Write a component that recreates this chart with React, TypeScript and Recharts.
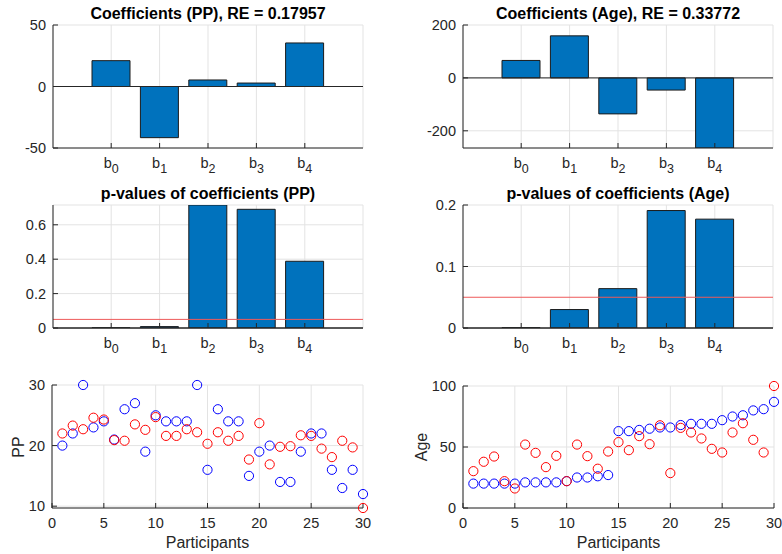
import React from "react";
import {
  BarChart, Bar, XAxis, YAxis, CartesianGrid, ReferenceLine,
  ScatterChart, Scatter,
} from "recharts";

// regression coefficients and their p-values
const COEF_NAMES = ["b0", "b1", "b2", "b3", "b4"];
const PP_COEF = [21, -41.6, 5.3, 2.8, 35.4];
const AGE_COEF = [66, 159, -136, -46, -265];
const PP_PVAL = [0.001, 0.008, 0.715, 0.69, 0.388];
const AGE_PVAL = [0.0005, 0.03, 0.064, 0.191, 0.177];
const P_LIMIT = 0.05;

// per participant values
const PARTICIPANTS = [1, 2, 3, 4, 5, 6, 7, 8, 9, 10, 11, 12, 13, 14, 15, 16, 17, 18, 19, 20, 21, 22, 23, 24, 25, 26, 27, 28, 29, 30];
const PP_MEASURED = [20, 22, 30, 23, 24, 21, 26, 27, 19, 25, 24, 24, 24, 30, 16, 26, 24, 24, 15, 19, 20, 14, 14, 19, 22, 22, 16, 13, 16, 12];
const PP_ESTIMATED = [22, 23.3, 22.7, 24.6, 24.3, 20.9, 20.8, 23.5, 22.6, 24.7, 21.6, 21.6, 22.7, 22.2, 20.3, 22.2, 20.8, 21.6, 17.7, 23.7, 16.9, 19.8, 19.9, 21.7, 21.6, 19.5, 18.1, 20.8, 19.7, 9.7];
const AGE_MEASURED = [20, 20, 20, 20, 20, 21, 21, 21, 21, 22, 25, 25, 26, 27, 63, 63, 64, 65, 66, 66, 68, 69, 69, 69, 72, 75, 76, 80, 81, 87];
const AGE_ESTIMATED = [30.2, 37.9, 42.2, 22, 16, 52, 45.2, 33.5, 42.8, 22, 52, 42.5, 32.2, 46.3, 54, 47.4, 58.9, 52.3, 67.8, 28.6, 65.7, 61.9, 57, 48.5, 45.5, 61.9, 69.5, 55.9, 45.5, 100];

const X_TICKS = [0, 5, 10, 15, 20, 25, 30];

const FONT = '"Liberation Sans", Arial, Helvetica, sans-serif';
const AXIS = "#262626";
const GRID = "#e3e3e3";
const BAR_BLUE = "#0072BD";
const TICK_STYLE = { fill: AXIS, fontSize: 14.5, fontFamily: FONT };

function SubTick(props: any) {
  const { x, y, payload } = props;
  const s = String(payload.value);
  return (
    <text x={x} y={y + 16} textAnchor="middle" fill={AXIS} fontFamily={FONT} fontSize={14.5}>
      <tspan>{s[0]}</tspan>
      <tspan fontSize={12.5} dy={5}>{s.slice(1)}</tspan>
    </text>
  );
}

const ring = (color: string) => (props: any) =>
  <circle cx={props.cx} cy={props.cy} r={4.6} fill="none" stroke={color} strokeWidth={1} />;

function Title({ text, left, width }: { text: string; left: number; width: number }) {
  return (
    <div style={{
      position: "absolute", left, width, top: 5, textAlign: "center",
      fontFamily: FONT, fontWeight: "bold", fontSize: 16, lineHeight: "18px", color: "#000",
      whiteSpace: "nowrap",
    }}>{text}</div>
  );
}

function BarPanel({ left, top, yWidth, rightPad, title, values, domain, ticks, limit }: {
  left: number; top: number; yWidth: number; rightPad: number; title: string;
  values: number[]; domain: [number, number]; ticks: number[]; limit?: number;
}) {
  const data = COEF_NAMES.map((name, i) => ({ name, value: values[i] }));
  return (
    <div style={{ position: "absolute", left, top, width: 391, height: 180 }}>
      <Title text={title} left={yWidth} width={391 - yWidth - rightPad} />
      <BarChart width={391} height={180} data={data}
        margin={{ top: 25, right: rightPad, bottom: 0, left: 0 }}>
        <CartesianGrid stroke={GRID} />
        <XAxis dataKey="name" padding={{ left: 34, right: 34 }} height={32}
          tick={<SubTick />} tickSize={-5} tickMargin={9}
          axisLine={{ stroke: AXIS }} tickLine={{ stroke: AXIS }} interval={0} />
        <XAxis xAxisId="top" orientation="top" dataKey="name" padding={{ left: 34, right: 34 }}
          height={0} tick={false} tickLine={false} axisLine={{ stroke: AXIS }} />
        <YAxis type="number" width={yWidth} domain={domain} ticks={ticks} allowDataOverflow
          interval={0} tick={TICK_STYLE} tickSize={-5} tickMargin={12}
          axisLine={{ stroke: AXIS }} tickLine={{ stroke: AXIS }} />
        <YAxis yAxisId="right" orientation="right" type="number" width={0} domain={domain}
          tick={false} tickLine={false} axisLine={{ stroke: AXIS }} />
        <Bar dataKey="value" fill={BAR_BLUE} stroke="#1a1a1a" strokeWidth={1} barSize={38}
          isAnimationActive={false} />
        <ReferenceLine y={0} stroke={AXIS} />
        {limit !== undefined && <ReferenceLine y={limit} stroke="#ee5a5a" />}
      </BarChart>
    </div>
  );
}

function ScatterPanel({ left, top, yWidth, rightPad, plotTop, yLabel, labelX, measured, estimated, domain, ticks }: {
  left: number; top: number; yWidth: number; rightPad: number; plotTop: number;
  yLabel: string; labelX: number; measured: number[]; estimated: number[];
  domain: [number, number]; ticks: number[];
}) {
  const measuredPts = PARTICIPANTS.map((x, i) => ({ x, y: measured[i] }));
  const estimatedPts = PARTICIPANTS.map((x, i) => ({ x, y: estimated[i] }));
  const plotH = 138 - plotTop;
  return (
    <div style={{ position: "absolute", left, top, width: 391, height: 184 }}>
      <div style={{
        position: "absolute", left: labelX - 40, top: plotTop + plotH / 2 - 10, width: 80, height: 20,
        transform: "rotate(-90deg)", textAlign: "center", fontFamily: FONT, fontSize: 16,
        lineHeight: "20px", color: AXIS,
      }}>{yLabel}</div>
      <div style={{
        position: "absolute", left: yWidth, width: 391 - yWidth - rightPad, top: 164, textAlign: "center",
        fontFamily: FONT, fontSize: 16, lineHeight: "18px", color: AXIS,
      }}>Participants</div>
      <ScatterChart width={391} height={184} margin={{ top: plotTop, right: rightPad, bottom: 0, left: 0 }}>
        <CartesianGrid stroke={GRID} />
        <XAxis type="number" dataKey="x" domain={[0, 30]} ticks={X_TICKS} interval={0} height={46}
          tick={TICK_STYLE} tickSize={-5} tickMargin={15}
          axisLine={{ stroke: AXIS }} tickLine={{ stroke: AXIS }} />
        <YAxis type="number" dataKey="y" width={yWidth} domain={domain} ticks={ticks} interval={0}
          tick={TICK_STYLE} tickSize={-5} tickMargin={12}
          axisLine={{ stroke: AXIS }} tickLine={{ stroke: AXIS }} />
        <Scatter data={measuredPts} shape={ring("#0000ff")} isAnimationActive={false} />
        <Scatter data={estimatedPts} shape={ring("#ff0000")} isAnimationActive={false} />
      </ScatterChart>
    </div>
  );
}

export default function App() {
  return (
    <div style={{ position: "absolute", left: 0, top: 0, width: 782, height: 554, background: "#fff", overflow: "hidden" }}>
      <BarPanel left={0} top={0} yWidth={53} rightPad={28}
        title="Coefficients (PP), RE = 0.17957" values={PP_COEF} domain={[-50, 50]} ticks={[-50, 0, 50]} />
      <BarPanel left={391} top={0} yWidth={72} rightPad={9}
        title="Coefficients (Age), RE = 0.33772" values={AGE_COEF} domain={[-265, 200]} ticks={[-200, 0, 200]} />
      <BarPanel left={0} top={180} yWidth={53} rightPad={28}
        title="p-values of coefficients (PP)" values={PP_PVAL} domain={[0, 0.715]} ticks={[0, 0.2, 0.4, 0.6]} limit={P_LIMIT} />
      <BarPanel left={391} top={180} yWidth={72} rightPad={9}
        title="p-values of coefficients (Age)" values={AGE_PVAL} domain={[0, 0.2]} ticks={[0, 0.1, 0.2]} limit={P_LIMIT} />
      <ScatterPanel left={0} top={370} yWidth={52} rightPad={28} plotTop={15}
        yLabel="PP" labelX={19} measured={PP_MEASURED} estimated={PP_ESTIMATED}
        domain={[9.7, 30]} ticks={[10, 20, 30]} />
      <ScatterPanel left={391} top={370} yWidth={72} rightPad={8} plotTop={16}
        yLabel="Age" labelX={31} measured={AGE_MEASURED} estimated={AGE_ESTIMATED}
        domain={[0, 100]} ticks={[0, 50, 100]} />
    </div>
  );
}
